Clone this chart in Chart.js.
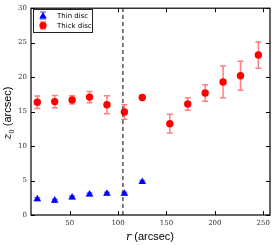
<!DOCTYPE html>
<html>
<head>
<meta charset="utf-8">
<script src="https://cdn.jsdelivr.net/npm/chart.js@4"></script>
<style>
  html, body { margin: 0; padding: 0; background: #fff; }
</style>
</head>
<body>
<canvas id="chartCanvas" width="276" height="245"></canvas>
<script>
// values
const thinR = [16.5, 34.5, 52.5, 70.5, 88.5, 106.5, 125];
const thinZ = [2.3, 2.1, 2.55, 3.0, 3.1, 3.1, 4.8];
const thinErr = [0.2, 0.2, 0.2, 0.2, 0.2, 0.2, 0.2];

const thickR = [16.5, 34.5, 52.5, 70.5, 88.5, 106.5, 125, 153.5, 172, 190, 208.5, 226.5, 245];
const thickZ = [16.35, 16.45, 16.7, 17.1, 16.0, 14.95, 17.05, 13.25, 16.1, 17.7, 19.3, 20.2, 23.2];
const thickErr = [0.9, 0.9, 0.6, 0.8, 1.3, 1.05, 0.15, 1.35, 0.9, 1.2, 2.3, 2.1, 1.9];

const cutR = 105;
const xTicks = [50, 100, 150, 200, 250];
const yTicks = [0, 5, 10, 15, 20, 25, 30];

const toPoints = (xs, ys) => xs.map((x, i) => ({ x: x, y: ys[i] }));

const errorBars = {
  id: 'errorBars',
  beforeDatasetsDraw(chart) {
    const ctx = chart.ctx;
    const xs = chart.scales.x, ys = chart.scales.y;
    chart.data.datasets.forEach(ds => {
      if (!ds.errors) return;
      ctx.save();
      ctx.strokeStyle = ds.errColor;
      ctx.lineWidth = 1.5;
      ds.data.forEach((p, i) => {
        const e = ds.errors[i];
        const px = xs.getPixelForValue(p.x);
        const top = ys.getPixelForValue(p.y + e);
        const bot = ys.getPixelForValue(p.y - e);
        ctx.beginPath();
        ctx.moveTo(px, top); ctx.lineTo(px, bot);
        ctx.moveTo(px - 3, top); ctx.lineTo(px + 3, top);
        ctx.moveTo(px - 3, bot); ctx.lineTo(px + 3, bot);
        ctx.stroke();
      });
      ctx.restore();
    });
  }
};

const frame = {
  id: 'frame',
  afterDatasetsDraw(chart) {
    const ctx = chart.ctx;
    const a = chart.chartArea;
    const xs = chart.scales.x, ys = chart.scales.y;
    ctx.save();
    ctx.strokeStyle = '#000';
    ctx.lineWidth = 1;
    ctx.beginPath();
    xTicks.forEach(v => {
      const px = Math.round(xs.getPixelForValue(v)) + 0.5;
      ctx.moveTo(px, a.bottom); ctx.lineTo(px, a.bottom - 4);
      ctx.moveTo(px, a.top); ctx.lineTo(px, a.top + 4);
    });
    yTicks.forEach(v => {
      const py = Math.round(ys.getPixelForValue(v)) + 0.5;
      ctx.moveTo(a.left, py); ctx.lineTo(a.left + 4, py);
      ctx.moveTo(a.right, py); ctx.lineTo(a.right - 4, py);
    });
    ctx.stroke();
    ctx.lineWidth = 1.2;
    ctx.strokeRect(a.left, a.top, a.right - a.left, a.bottom - a.top);

    // legend
    ctx.lineWidth = 1;
    ctx.strokeStyle = '#222';
    ctx.fillStyle = '#fff';
    ctx.fillRect(33.5, 9.5, 59, 23);
    ctx.strokeRect(33.5, 9.5, 59, 23);
    ctx.font = '7px "DejaVu Sans"';
    ctx.textBaseline = 'middle';
    const rows = [chart.data.datasets[0], chart.data.datasets[1]];
    rows.forEach((ds, i) => {
      const cy = 15.5 + i * 10;
      const cx = 43;
      ctx.strokeStyle = ds.errColor;
      ctx.lineWidth = 1.5;
      ctx.beginPath();
      ctx.moveTo(cx, cy - 3.5); ctx.lineTo(cx, cy + 3.5);
      ctx.moveTo(cx - 3, cy - 3.5); ctx.lineTo(cx + 3, cy - 3.5);
      ctx.moveTo(cx - 3, cy + 3.5); ctx.lineTo(cx + 3, cy + 3.5);
      ctx.stroke();
      ctx.fillStyle = ds.backgroundColor;
      ctx.beginPath();
      if (ds.pointStyle === 'triangle') {
        ctx.moveTo(cx, cy - 3.5); ctx.lineTo(cx + 3.8, cy + 3); ctx.lineTo(cx - 3.8, cy + 3);
        ctx.closePath();
      } else {
        ctx.arc(cx, cy, 3.6, 0, Math.PI * 2);
      }
      ctx.fill();
      ctx.fillStyle = '#000';
      ctx.fillText(ds.label, 57, cy + 0.5);
    });

    // axis titles
    ctx.fillStyle = '#000';
    ctx.textBaseline = 'alphabetic';
    const part = (txt, font) => { ctx.font = font; return ctx.measureText(txt).width; };
    const fz = 'italic 11px "DejaVu Serif"', fs = '7px "DejaVu Serif"', fa = '11px "Liberation Sans"';
    // y title, rotated
    const w1 = part('z', fz), w2 = part('0', fs), w3 = part(' (arcsec)', fa);
    ctx.save();
    ctx.translate(11, 113);
    ctx.rotate(-Math.PI / 2);
    let sx = -(w1 + w2 + w3) / 2;
    ctx.font = fz; ctx.fillText('z', sx, 0); sx += w1;
    ctx.font = fs; ctx.fillText('0', sx, 2.5); sx += w2;
    ctx.font = fa; ctx.fillText(' (arcsec)', sx, 0);
    ctx.restore();
    // x title
    const r1 = part('r', fz), r2 = part(' (arcsec)', fa);
    let tx = 150 - (r1 + r2) / 2;
    ctx.font = fz; ctx.fillText('r', tx, 240); tx += r1;
    ctx.font = fa; ctx.fillText(' (arcsec)', tx, 240);
    ctx.restore();
  }
};

const ctx = document.getElementById('chartCanvas').getContext('2d');
const myChart = new Chart(ctx, {
  type: 'scatter',
  data: {
    datasets: [
      {
        label: 'Thin disc',
        data: toPoints(thinR, thinZ),
        errors: thinErr,
        errColor: 'rgba(0, 0, 255, 0.5)',
        pointStyle: 'triangle',
        pointRadius: 4.4,
        backgroundColor: '#0000ff',
        borderColor: '#0000ff',
        borderWidth: 0
      },
      {
        label: 'Thick disc',
        data: toPoints(thickR, thickZ),
        errors: thickErr,
        errColor: 'rgba(255, 0, 0, 0.5)',
        pointStyle: 'circle',
        pointRadius: 3.7,
        backgroundColor: '#ff0000',
        borderColor: '#ff0000',
        borderWidth: 0
      },
      {
        label: 'cut',
        type: 'line',
        data: [{ x: cutR, y: 0 }, { x: cutR, y: 30 }],
        borderColor: '#000',
        borderWidth: 1,
        borderDash: [4, 3],
        pointRadius: 0
      }
    ]
  },
  options: {
    responsive: false,
    animation: false,
    layout: { padding: { top: 6, right: 6, left: 0, bottom: 0 } },
    plugins: { legend: { display: false }, tooltip: { enabled: false } },
    scales: {
      x: {
        type: 'linear',
        min: 10,
        max: 257,
        afterBuildTicks: s => { s.ticks = xTicks.map(v => ({ value: v })); },
        afterFit: s => { s.height = 30; },
        grid: { display: false, drawTicks: false },
        border: { display: false },
        ticks: { padding: 4, color: '#333', font: { family: 'DejaVu Serif', size: 7 } }
      },
      y: {
        min: 0,
        max: 30,
        afterBuildTicks: s => { s.ticks = yTicks.map(v => ({ value: v })); },
        afterFit: s => { s.width = 31; },
        grid: { display: false, drawTicks: false },
        border: { display: false },
        ticks: { padding: 4, color: '#333', font: { family: 'DejaVu Serif', size: 7 } }
      }
    }
  },
  plugins: [errorBars, frame]
});
</script>
</body>
</html>
